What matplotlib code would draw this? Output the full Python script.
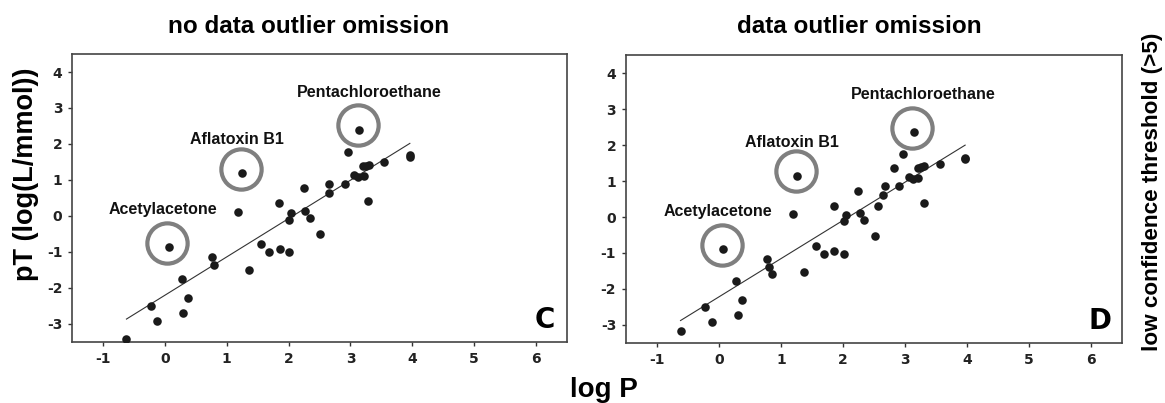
import numpy as np
import matplotlib.pyplot as plt
from matplotlib.transforms import ScaledTranslation

# panel C: no data outlier omission
logp_c = [-0.62, -0.23, -0.12, 0.06, 0.28, 0.30, 0.37, 0.77, 0.79, 1.18, 1.25, 1.36, 1.55,
          1.68, 1.85, 1.86, 2.01, 2.01, 2.04, 2.25, 2.27, 2.34, 2.50, 2.65, 2.66, 2.91,
          2.96, 3.05, 3.13, 3.14, 3.20, 3.22, 3.25, 3.30, 3.29, 3.55, 3.96, 3.96]
pt_c = [-3.42, -2.50, -2.92, -0.86, -1.75, -2.69, -2.29, -1.15, -1.35, 0.12, 1.20, -1.50, -0.78,
        -1.01, 0.35, -0.92, -0.12, -1.00, 0.09, 0.77, 0.15, -0.06, -0.49, 0.65, 0.88, 0.88,
        1.78, 1.13, 1.09, 2.40, 1.38, 1.11, 1.40, 1.43, 0.42, 1.50, 1.69, 1.64]
outliers_c = [3, 10, 29]

# panel D: data outlier omission
logp_d = [-0.62, -0.23, -0.12, 0.07, 0.28, 0.30, 0.37, 0.78, 0.80, 0.86, 1.19, 1.26, 1.37, 1.56,
          1.69, 1.85, 1.86, 2.02, 2.02, 2.05, 2.25, 2.28, 2.34, 2.51, 2.56, 2.65, 2.67, 2.83,
          2.91, 2.96, 3.06, 3.13, 3.21, 3.14, 3.21, 3.26, 3.31, 3.30, 3.56, 3.97, 3.97]
pt_d = [-3.18, -2.50, -2.93, -0.89, -1.78, -2.71, -2.31, -1.17, -1.38, -1.59, 0.09, 1.15, -1.53,
        -0.81, -1.02, 0.31, -0.94, -0.10, -1.02, 0.06, 0.73, 0.12, -0.08, -0.52, 0.31, 0.62,
        0.85, 1.35, 0.85, 1.74, 1.10, 1.05, 1.08, 2.37, 1.35, 1.38, 1.41, 0.39, 1.47, 1.65, 1.61]
outliers_d = [3, 11, 33]

outlier_names = ["Acetylacetone", "Aflatoxin B1", "Pentachloroethane"]
xticks = [-1, 0, 1, 2, 3, 4, 5, 6]
yticks = [-3, -2, -1, 0, 1, 2, 3, 4]

plt.rcParams['font.family'] = ['Liberation Sans', 'DejaVu Sans']
plt.rcParams['axes.unicode_minus'] = False

fig = plt.figure(figsize=(11.65, 4.03), dpi=100)
ax_c = fig.add_axes([0.0618, 0.1514, 0.4249, 0.7146])
ax_d = fig.add_axes([0.5373, 0.1489, 0.4258, 0.7146])

label_offsets = [(-4, 27), (-4, 24), (7, 27)]


def draw_panel(ax, x, y, out_idx, letter):
    x = np.array(x)
    y = np.array(y)
    k, b = np.polyfit(x, y, 1)
    xs = np.array([x.min(), x.max()])
    ax.plot(xs, k * xs + b, color='#333333', lw=0.8, zorder=2)
    ax.scatter(x, y, s=38, color='#1a1a1a', zorder=3, linewidths=0)

    shift = ax.transData + ScaledTranslation(-1 / 72, 3 / 72, fig.dpi_scale_trans)
    for i, name, off in zip(out_idx, outlier_names, label_offsets):
        ax.plot(x[i], y[i], marker='o', ms=29, mfc='none', mec='#7f7f7f', mew=3,
                transform=shift, zorder=2)
        ax.annotate(name, (x[i], y[i]), xytext=off, textcoords='offset points',
                    ha='center', va='center', fontsize=11.5, fontweight='bold', color='#111111')

    ax.set_xlim(-1.5, 6.5)
    ax.set_ylim(-3.5, 4.5)
    ax.set_xticks(xticks)
    ax.set_yticks(yticks)
    ax.tick_params(length=3, width=1, color='#333333', labelsize=10, pad=4)
    for lab in ax.get_xticklabels() + ax.get_yticklabels():
        lab.set_fontfamily('DejaVu Sans')
        lab.set_fontweight('bold')
        lab.set_color('#222222')
    for sp in ax.spines.values():
        sp.set_color('#444444')
        sp.set_linewidth(1.2)
    ax.text(0.955, 0.075, letter, transform=ax.transAxes, ha='center', va='center',
            fontsize=20, fontweight='heavy', fontfamily='DejaVu Sans')


draw_panel(ax_c, logp_c, pt_c, outliers_c, 'C')
draw_panel(ax_d, logp_d, pt_d, outliers_d, 'D')

fig.text(0.265, 0.935, "no data outlier omission", ha='center', va='center',
         fontsize=17.5, fontweight='bold')
fig.text(0.738, 0.935, "data outlier omission", ha='center', va='center',
         fontsize=17.5, fontweight='bold')
fig.text(0.518, 0.032, "log P", ha='center', va='center', fontsize=20, fontweight='bold')
fig.text(0.022, 0.568, "pT (log(L/mmol))", ha='center', va='center', rotation=90,
         fontsize=19.5, fontweight='bold')
fig.text(0.989, 0.524, "low confidence threshold (>5)", ha='center', va='center',
         rotation=90, fontsize=16.2, fontweight='bold')

fig.savefig('out.png', dpi=100)
